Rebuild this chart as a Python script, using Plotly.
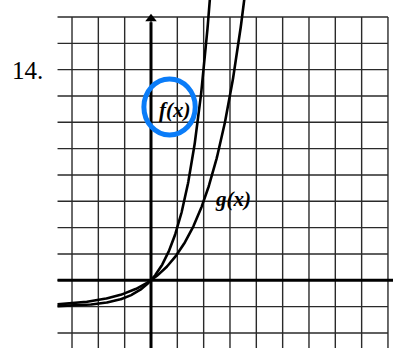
import numpy as np
import plotly.graph_objects as go

# Curves: f(x) = 3^x - 1 and g(x) = 2^x - 1
bases = {"f": 3.0, "g": 2.0}
shift = -1.0

# Grid extent (in graph units)
grid_x_ticks = list(range(-3, 10))
grid_y_ticks = list(range(-2, 11))
x_left, x_right = -3.55, 9.0
y_bottom, y_top = -2.6, 10.0

# Labels
problem_label = "14."
f_label = "f(x)"
g_label = "g(x)"

W, H = 393, 348
unit = 26.33
origin_px = (151.0, 280.3)
x_range = [-origin_px[0] / unit, (W - origin_px[0]) / unit]
y_range = [-(H - origin_px[1]) / unit, origin_px[1] / unit]

fig = go.Figure()

# grid lines
gx, gy = [], []
for xv in grid_x_ticks:
    gx += [xv, xv, None]
    gy += [y_bottom, y_top, None]
for yv in grid_y_ticks:
    gx += [x_left, x_right, None]
    gy += [yv, yv, None]
fig.add_trace(go.Scatter(x=gx, y=gy, mode="lines",
                         line=dict(color="#2a2a2a", width=1.4),
                         hoverinfo="skip", showlegend=False))

# axes
fig.add_trace(go.Scatter(x=[x_left, 9.2, None, 0, 0], y=[0, 0, None, y_bottom, 9.8],
                         mode="lines", line=dict(color="black", width=3),
                         hoverinfo="skip", showlegend=False))
fig.add_trace(go.Scatter(x=[0], y=[9.93], mode="markers",
                         marker=dict(symbol="triangle-up", size=10, color="black"),
                         hoverinfo="skip", showlegend=False))

# exponential curves
for name, b in bases.items():
    xs = np.linspace(x_left, np.log(12) / np.log(b), 400)
    ys = b ** xs + shift
    fig.add_trace(go.Scatter(x=xs, y=ys, mode="lines",
                             line=dict(color="black", width=2.6),
                             hoverinfo="skip", showlegend=False, name=name))

# labels
fig.add_annotation(x=-4.7, y=7.97, text=problem_label, showarrow=False,
                   font=dict(family="Liberation Serif", size=25, color="black"))
fig.add_annotation(x=0.88, y=6.45, text=f"<b><i>{f_label}</i></b>", showarrow=False,
                   font=dict(family="Liberation Serif", size=21, color="black"))
fig.add_annotation(x=3.12, y=3.07, text=f"<b><i>{g_label}</i></b>", showarrow=False,
                   font=dict(family="Liberation Serif", size=21, color="black"))

# hand-drawn circle around f(x)
fig.add_shape(type="circle", xref="x", yref="y",
              x0=-0.27, x1=1.68, y0=5.52, y1=7.65,
              line=dict(color="#0a7cf8", width=5))

fig.update_layout(
    width=W, height=H,
    margin=dict(l=0, r=0, t=0, b=0),
    paper_bgcolor="white", plot_bgcolor="white",
    xaxis=dict(range=x_range, visible=False, fixedrange=True),
    yaxis=dict(range=y_range, visible=False, fixedrange=True),
)

fig.write_html("out.html")
